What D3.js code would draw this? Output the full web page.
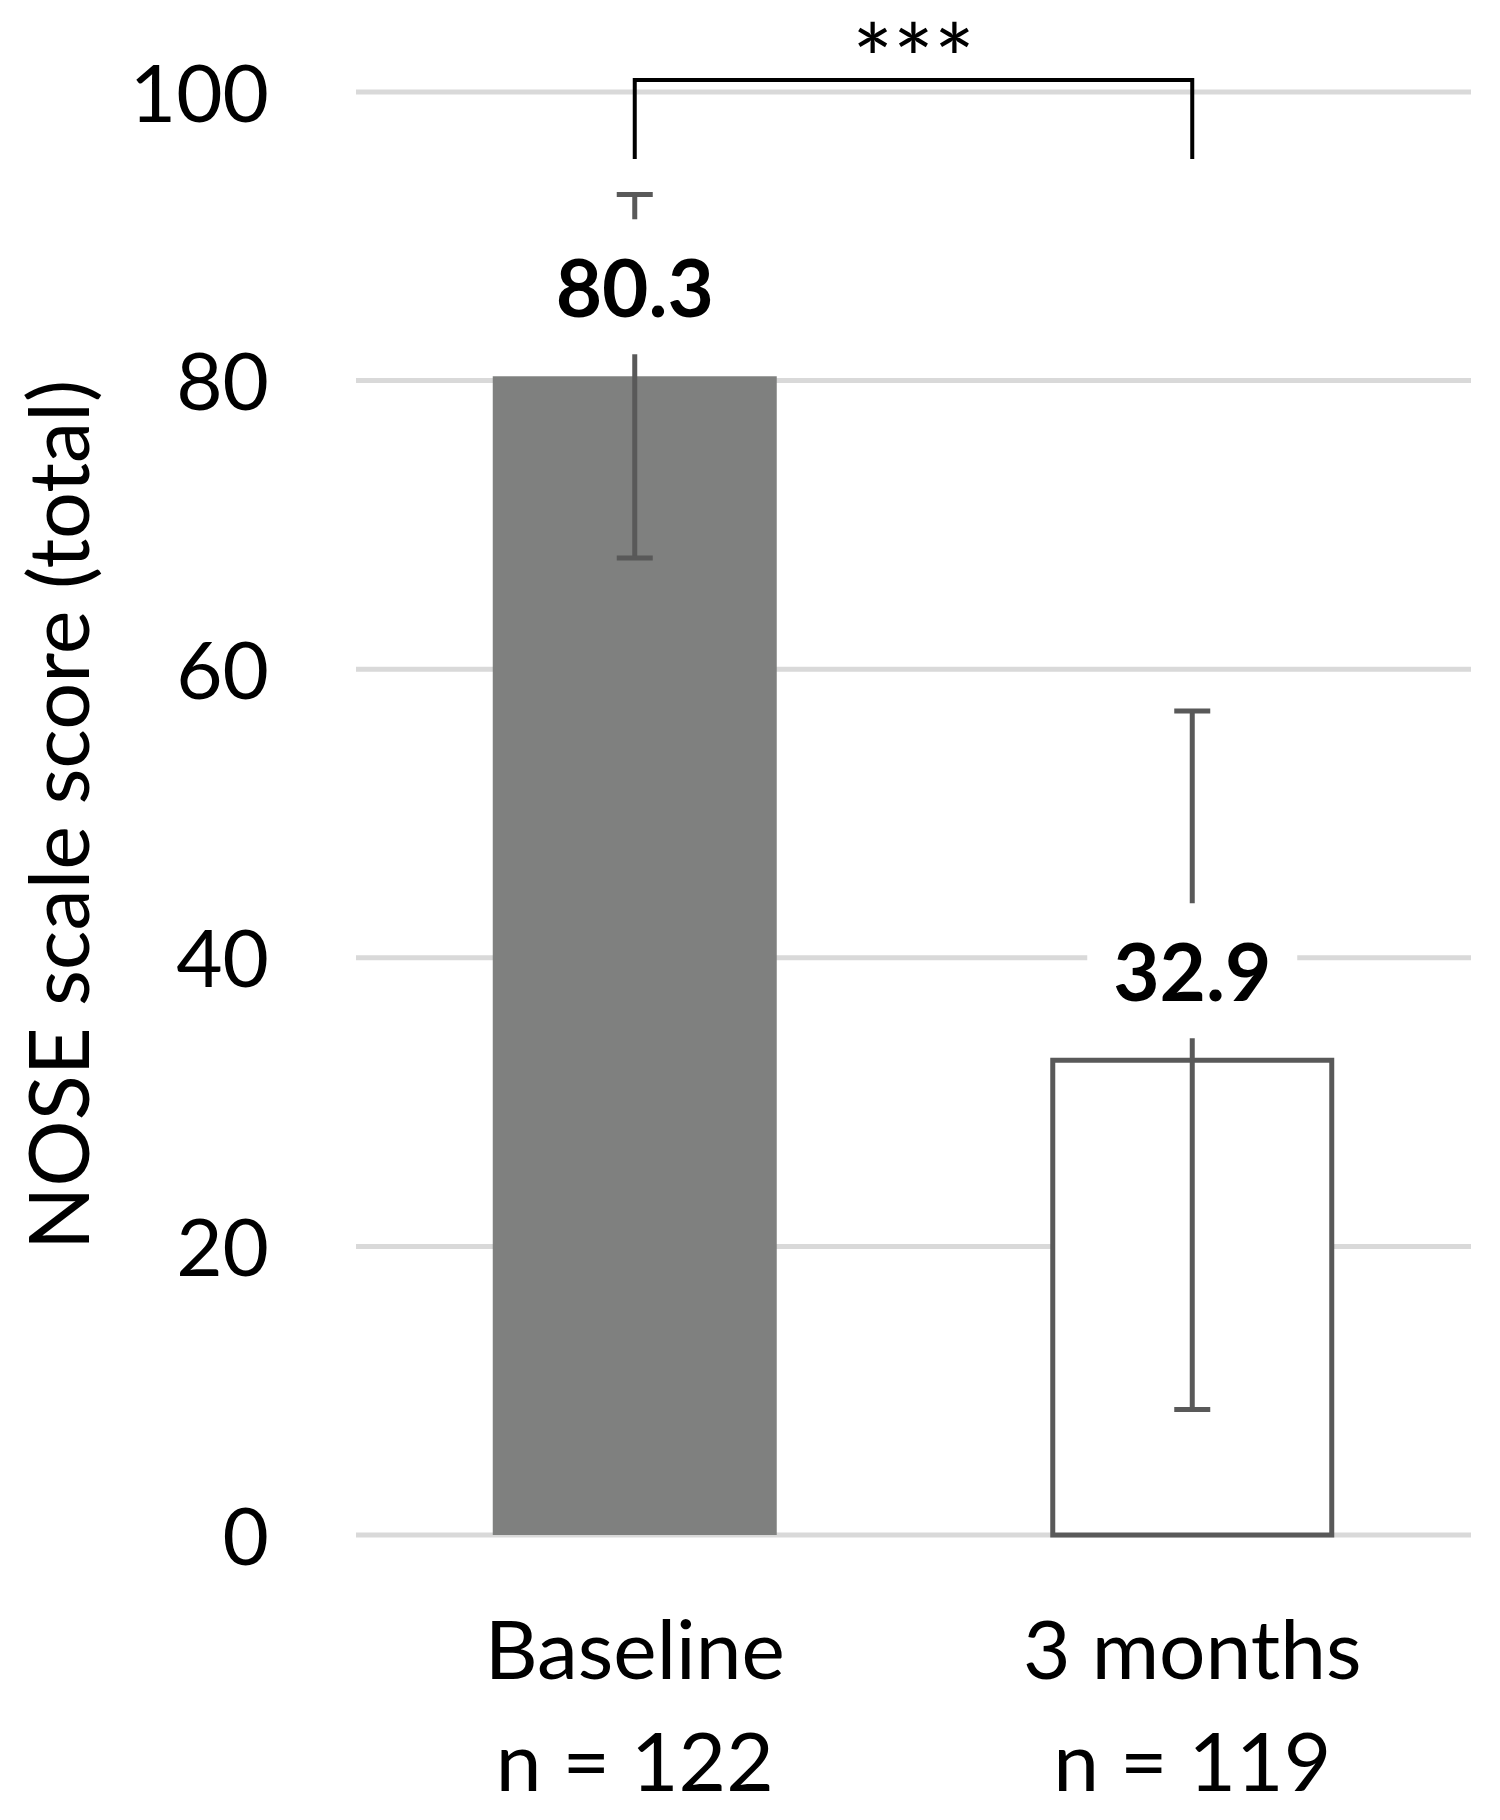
<!DOCTYPE html>
<html>
<head>
<meta charset="utf-8">
<script src="https://cdnjs.cloudflare.com/ajax/libs/d3/7.8.5/d3.min.js"></script>
<style>
  html, body { margin: 0; padding: 0; background: #fff; }
  svg { display: block; }
  text { font-family: Lato, "Open Sans", sans-serif; fill: #000; }
</style>
</head>
<body>
<svg id="chart" width="1500" height="1820"></svg>
<script>
// ---- data ----
const categories = ["Baseline", "3 months"];
const sampleSizes = ["n = 122", "n = 119"];
const means = [80.3, 32.9];
const sds = [12.6, 24.2];
const valueLabels = ["80.3", "32.9"];
const yTicks = [0, 20, 40, 60, 80, 100];
const significance = "***";
const yTitle = "NOSE scale score (total)";

// ---- layout ----
const W = 1500, H = 1820;
const plotLeft = 356, plotRight = 1471, plotTop = 92, plotBottom = 1535;
const svg = d3.select("#chart");

const x = d3.scaleBand().domain(categories).range([plotLeft, plotRight])
  .paddingInner(0.4906).paddingOuter(0.2453);
const y = d3.scaleLinear().domain([0, 100]).range([plotBottom, plotTop]);

const errColor = "#595959";
const errWidth = 5;
const capHalf = 18;

// gridlines
svg.append("g").selectAll("line").data(yTicks).join("line")
  .attr("x1", plotLeft).attr("x2", plotRight)
  .attr("y1", d => y(d)).attr("y2", d => y(d))
  .attr("stroke", "#d9d9d9").attr("stroke-width", 5);

// y axis (labels only)
const yAxis = d3.axisLeft(y).tickValues(yTicks).tickSize(0).tickPadding(0);
const gy = svg.append("g").attr("transform", `translate(269,0)`).call(yAxis);
gy.select(".domain").remove();
gy.selectAll("text")
  .attr("font-family", "Lato, 'Open Sans', sans-serif")
  .attr("font-size", 80).attr("fill", "#000")
  .attr("text-anchor", "end").attr("dy", null)
  .attr("dominant-baseline", null)
  .attr("y", 29);

// bars
const bw = x.bandwidth();
svg.append("rect")
  .attr("x", x(categories[0])).attr("width", bw)
  .attr("y", y(means[0])).attr("height", y(0) - y(means[0]))
  .attr("fill", "#7f807f");
svg.append("rect")
  .attr("x", x(categories[1]) + errWidth / 2).attr("width", bw - errWidth)
  .attr("y", y(means[1])).attr("height", y(0) - y(means[1]))
  .attr("fill", "#fff").attr("stroke", errColor).attr("stroke-width", errWidth);

// error bars
const eb = svg.append("g").attr("stroke", errColor).attr("stroke-width", errWidth);
categories.forEach((c, i) => {
  const cx = x(c) + bw / 2;
  const hi = means[i] + sds[i], lo = means[i] - sds[i];
  eb.append("line").attr("x1", cx).attr("x2", cx).attr("y1", y(hi)).attr("y2", y(lo));
  eb.append("line").attr("x1", cx - capHalf).attr("x2", cx + capHalf).attr("y1", y(hi)).attr("y2", y(hi));
  eb.append("line").attr("x1", cx - capHalf).attr("x2", cx + capHalf).attr("y1", y(lo)).attr("y2", y(lo));
});

// value labels with white boxes
categories.forEach((c, i) => {
  const cx = x(c) + bw / 2;
  const top = y(means[i]);
  svg.append("rect").attr("x", cx - 105).attr("width", 210)
    .attr("y", top - 157).attr("height", 135).attr("fill", "#fff");
  svg.append("text").attr("x", cx).attr("y", top - 59)
    .attr("text-anchor", "middle").attr("font-weight", 700)
    .attr("font-size", 80).text(valueLabels[i]);
});

// category labels
categories.forEach((c, i) => {
  const cx = x(c) + bw / 2;
  svg.append("text").attr("x", cx).attr("y", 1679)
    .attr("text-anchor", "middle").attr("font-size", 82).text(c);
  svg.append("text").attr("x", cx).attr("y", 1791)
    .attr("text-anchor", "middle").attr("font-size", 82).text(sampleSizes[i]);
});

// significance bracket
const bx1 = x(categories[0]) + bw / 2, bx2 = x(categories[1]) + bw / 2;
const bTop = 80, bBot = 159;
svg.append("path")
  .attr("d", `M${bx1},${bBot}V${bTop}H${bx2}V${bBot}`)
  .attr("fill", "none").attr("stroke", "#000").attr("stroke-width", 4);
svg.append("text").attr("x", (bx1 + bx2) / 2).attr("y", 95)
  .attr("text-anchor", "middle").attr("font-size", 96).text(significance);

// y title
svg.append("text").attr("transform", `translate(89,815) rotate(-90)`)
  .attr("text-anchor", "middle").attr("font-size", 83).text(yTitle);
</script>
</body>
</html>
